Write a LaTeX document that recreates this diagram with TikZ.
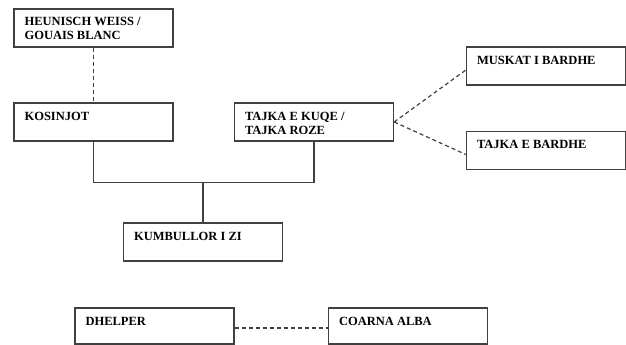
\documentclass[tikz,border=0pt]{standalone}
\usepackage{fontspec}
\setmainfont{Liberation Serif}
\usetikzlibrary{calc}
\begin{document}
\begin{tikzpicture}[x=1pt,y=-1pt,
  box/.style={draw=black!75,line width=1.3pt,rectangle,inner sep=0pt,minimum width=159pt,minimum height=38pt},
  lbl/.style={anchor=base west,inner sep=0pt,font=\fontsize{12.5}{14}\selectfont\bfseries},
  link/.style={draw=black!75,line width=1.3pt},
  dlink/.style={draw=black!75,line width=1.2pt,dash pattern=on 4pt off 3pt}]
\useasboundingbox (0,0) rectangle (626,345);
\node[box] (H) at (93.5,28) {};
\node[box] (K) at (93.5,122) {};
\node[box] (T) at (314,122) {};
\node[box] (M) at (546,66) {};
\node[box] (B) at (546,150.5) {};
\node[box] (Z) at (203,242) {};
\node[box,minimum height=36pt] (D) at (154.5,326) {};
\node[box,minimum height=36pt] (C) at (408,326) {};
\node[lbl] (Ht1) at ($(H.north west)+(11,17)$) {HEUNISCH WEISS /};
\node[lbl] (Ht2) at ($(H.north west)+(11,31)$) {GOUAIS BLANC};
\node[lbl] (Kt) at ($(K.north west)+(11,18)$) {KOSINJOT};
\node[lbl] (Tt1) at ($(T.north west)+(11,18)$) {TAJKA E KUQE /};
\node[lbl] (Tt2) at ($(T.north west)+(11,32)$) {TAJKA ROZE};
\node[lbl] (Mt) at ($(M.north west)+(11,18)$) {MUSKAT I BARDHE};
\node[lbl] (Bt) at ($(B.north west)+(11,18)$) {TAJKA E BARDHE};
\node[lbl] (Zt) at ($(Z.north west)+(11,18)$) {KUMBULLOR I ZI};
\node[lbl] (Dt) at ($(D.north west)+(11,18)$) {DHELPER};
\node[lbl] (Ct) at ($(C.north west)+(11,18)$) {COARNA ALBA};
\draw[dlink] (H.south) -- (K.north);
\draw[link] (K.south) -- ++(0,41) coordinate (j1) -| (T.south);
\draw[link] (Z.north) -- (Z.north |- j1);
\draw[dlink] (T.east) -- ([yshift=-4pt]M.west);
\draw[dlink] (T.east) -- ([yshift=-4pt]B.west);
\draw[dlink] ([yshift=-2pt]D.east) -- ([yshift=-2pt]C.west);
\end{tikzpicture}
\end{document}
